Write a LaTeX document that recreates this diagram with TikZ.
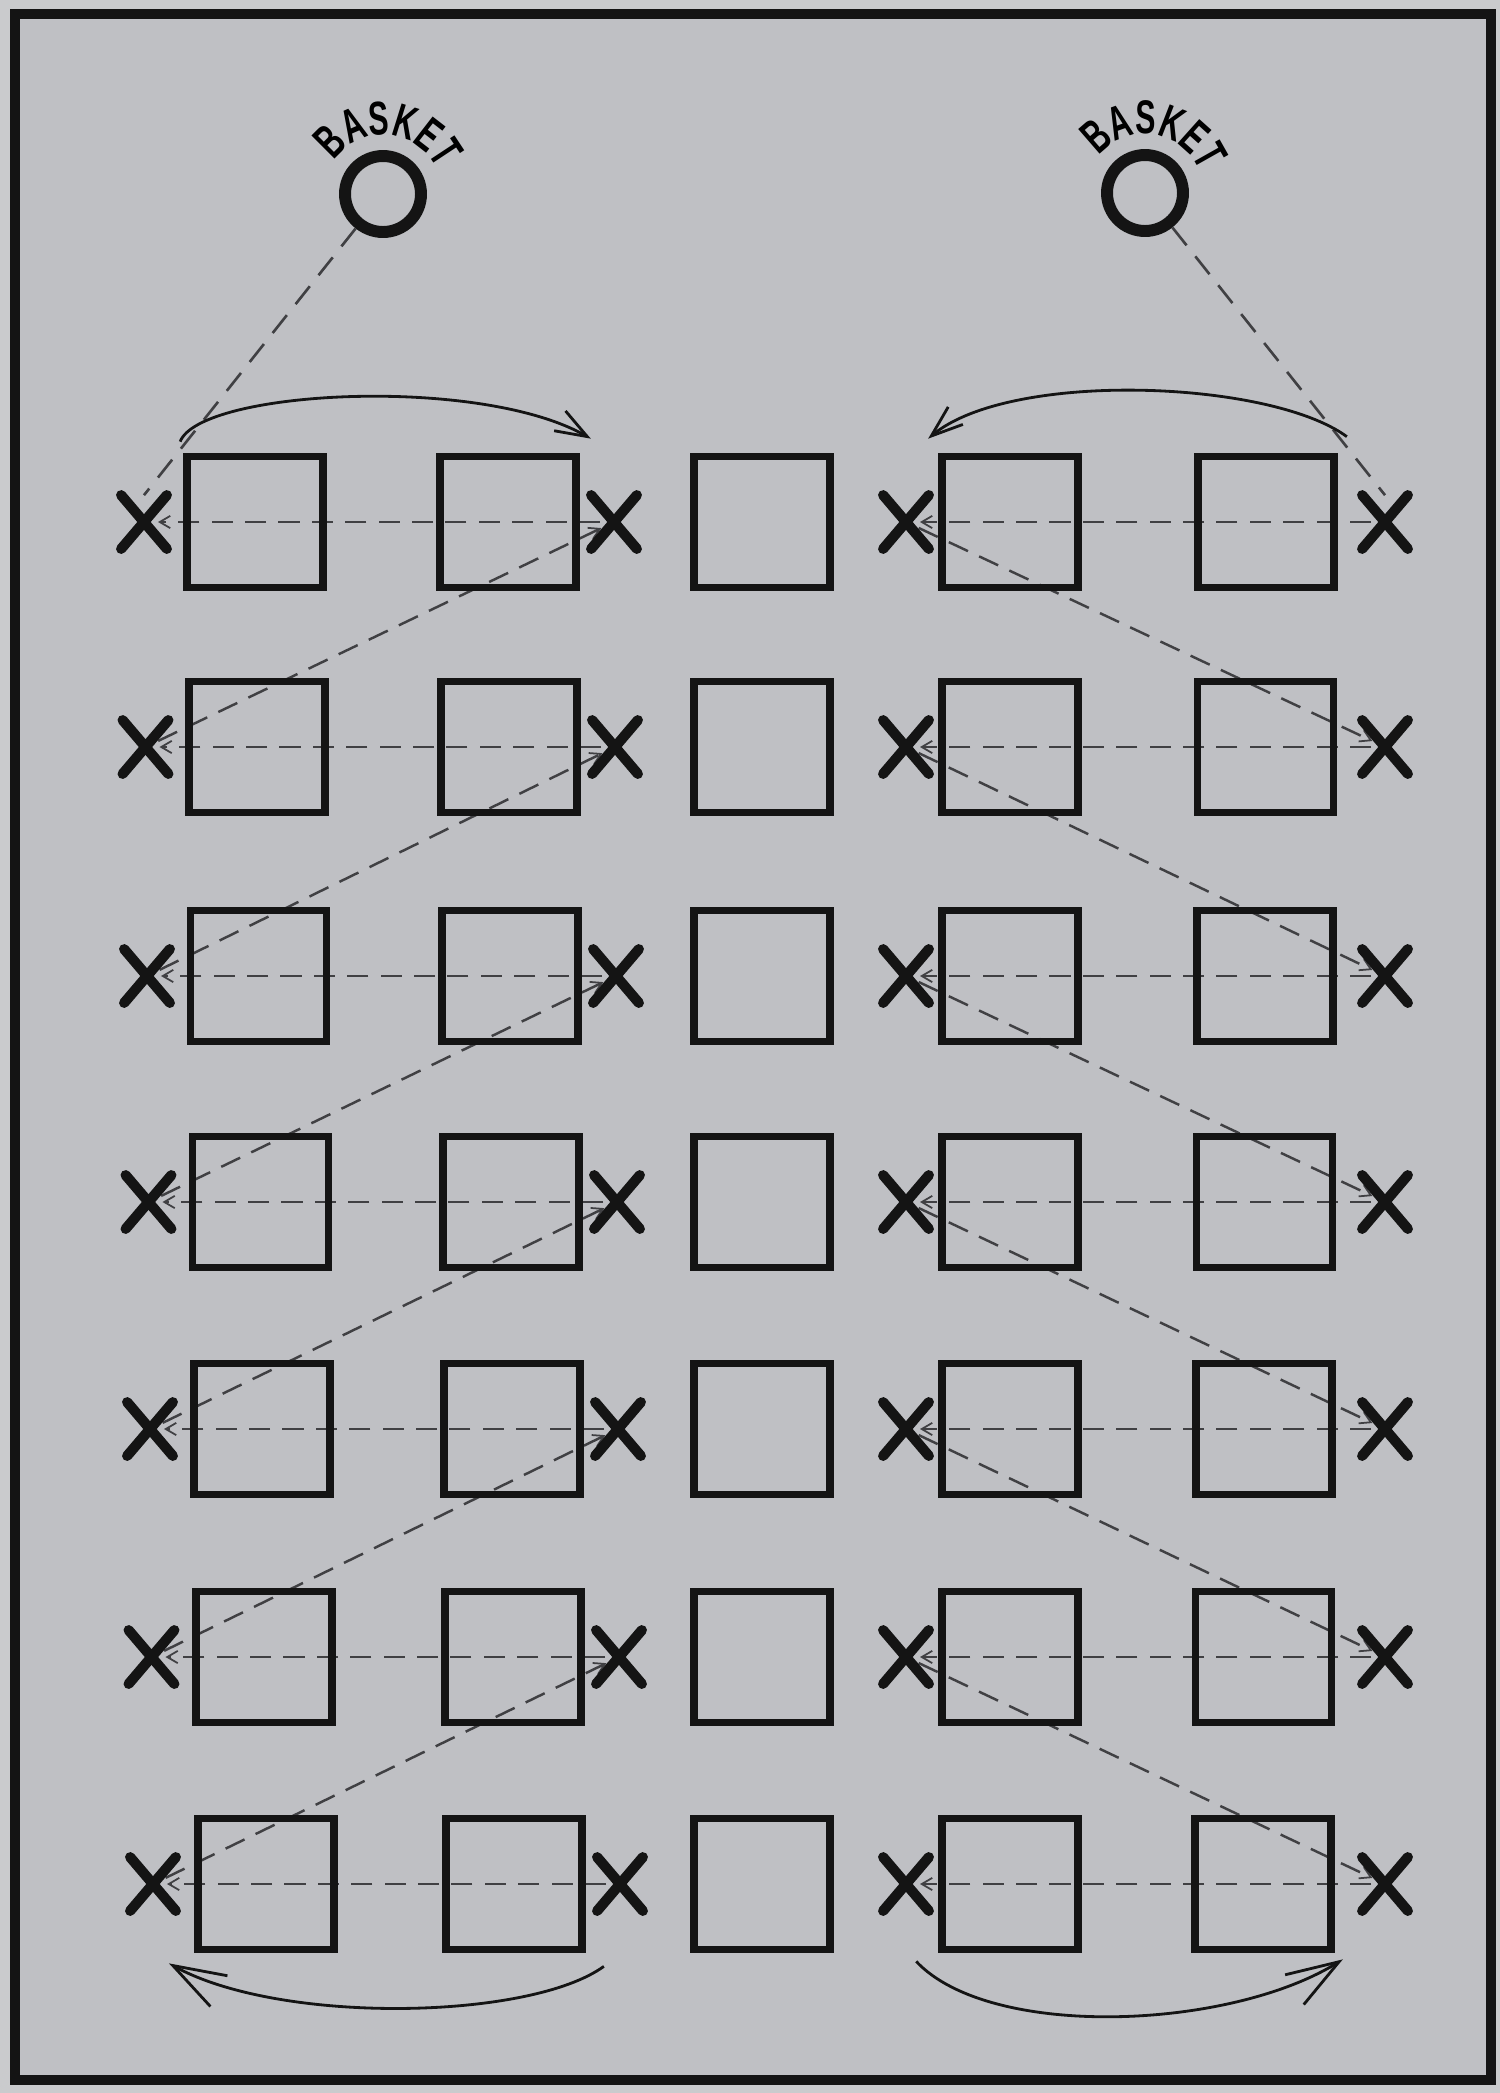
\documentclass[tikz,border=0pt]{standalone}
\usepackage{fontspec}
\newfontfamily\basketfont[FakeStretch=0.64]{Liberation Sans Bold}
\usetikzlibrary{arrows.meta,decorations.text}
\definecolor{paper}{HTML}{BFC0C4}
\definecolor{marginc}{HTML}{CACBCD}
\definecolor{ink}{HTML}{141414}
\definecolor{dashink}{HTML}{404043}
\tikzset{
  box/.style={draw=ink, line width=4.4pt, minimum width=2.72cm, minimum height=2.62cm, inner sep=0pt},
  xnode/.style={inner sep=0pt, minimum width=0.9cm, minimum height=1.06cm},
  xstroke/.style={draw=ink, line width=5.8pt, line cap=round},
  pass/.style={draw=dashink, line width=1.4pt, dash pattern=on 12pt off 7pt,
    shorten <=0.28cm, shorten >=0.28cm,
    -{Straight Barb[length=6pt,width=7pt,line width=1pt]}},
  plain/.style={draw=dashink, line width=1.5pt, dash pattern=on 13pt off 8pt},
  turn/.style={draw=ink, line width=1.6pt},
  hoop/.style={draw=ink, line width=6.8pt, circle, minimum size=1.52cm, inner sep=0pt},
}
\begin{document}
\begin{tikzpicture}[x=0.02cm, y=-0.02cm]
\useasboundingbox (0,0) rectangle (1500,2093);
\fill[marginc] (0,0) rectangle (1500,2093);
\fill[paper] (15,14) rectangle (1491,2080);
\draw[ink, line width=5.7pt] (15,14) rectangle (1491,2080);

% baskets
\node[hoop] (hL) at (383,194) {};
\node[hoop] (hR) at (1145,193) {};
\path[decorate, decoration={text along path, text align=center,
  text={|\basketfont\fontsize{27}{27}\selectfont|BASKET}}]
  ([shift={(174:1.18cm)}]hL.center) arc[start angle=174, end angle=-4, radius=1.18cm];
\path[decorate, decoration={text along path, text align=center,
  text={|\basketfont\fontsize{27}{27}\selectfont|BASKET}}]
  ([shift={(170:1.18cm)}]hR.center) arc[start angle=170, end angle=-8, radius=1.18cm];

% player positions (X marks)
\foreach \r/\y in {1/522,2/747,3/976,4/1202,5/1429,6/1657,7/1884}{
  \node[xnode] (xL\r) at ({144+(\r-1)*1.5},\y) {};
  \node[xnode] (xM\r) at ({614+(\r-1)*1},\y) {};
  \node[xnode] (xN\r) at (906,\y) {};
  \node[xnode] (xR\r) at (1385,\y) {};
}

% passes
\draw[plain] (hL) -- (xL1.north);
\draw[plain] (hR) -- (xR1.north);
\foreach \r in {1,...,7}{
  \draw[pass] (xM\r.center) -- (xL\r.center);
  \draw[pass] (xR\r.center) -- (xN\r.center);
}
\foreach \r [count=\n from 2] in {1,...,6}{
  \draw[pass] (xL\n.center) -- (xM\r.center);
  \draw[pass] (xN\r.center) -- (xR\n.center);
}

% boxes
\foreach \r/\y in {1/522,2/747,3/976,4/1202,5/1429,6/1657,7/1884}{
  \node[box] (bA\r) at ({255+(\r-1)*1.8},\y) {};
  \node[box] (bB\r) at ({508+(\r-1)*1},\y) {};
  \node[box] (bC\r) at (762,\y) {};
  \node[box] (bD\r) at (1010,\y) {};
  \node[box] (bE\r) at ({1266-(\r-1)*0.5},\y) {};
}

% X strokes
\foreach \r in {1,...,7}{
  \foreach \p in {xL,xM,xN,xR}{
    \draw[xstroke] (\p\r.north west) -- (\p\r.south east)
                   (\p\r.north east) -- (\p\r.south west);
  }
}

% rotation arrows
\draw[turn, -{Straight Barb[length=18pt,width=13pt]}]
  ([shift={(-3,-11)}]bA1.north west) .. controls (200,390) and (480,375) ..
  ([shift={(11,-14)}]bB1.north east);
\draw[turn, -{Straight Barb[length=18pt,width=13pt]}]
  ([shift={(9,-16)}]bE1.north east) .. controls (1270,380) and (1010,370) ..
  ([shift={(-10,-14)}]bD1.north west);
\draw[turn, -{Straight Barb[length=30pt,width=20pt]}]
  ([shift={(18,13)}]bB7.south east) .. controls (530,2020) and (280,2025) ..
  ([shift={(-25,10)}]bA7.south west);
\draw[turn, -{Straight Barb[length=30pt,width=20pt]}]
  ([shift={(-22,8)}]bD7.south west) .. controls (990,2040) and (1230,2030) ..
  ([shift={(8,6)}]bE7.south east);
\end{tikzpicture}
\end{document}
